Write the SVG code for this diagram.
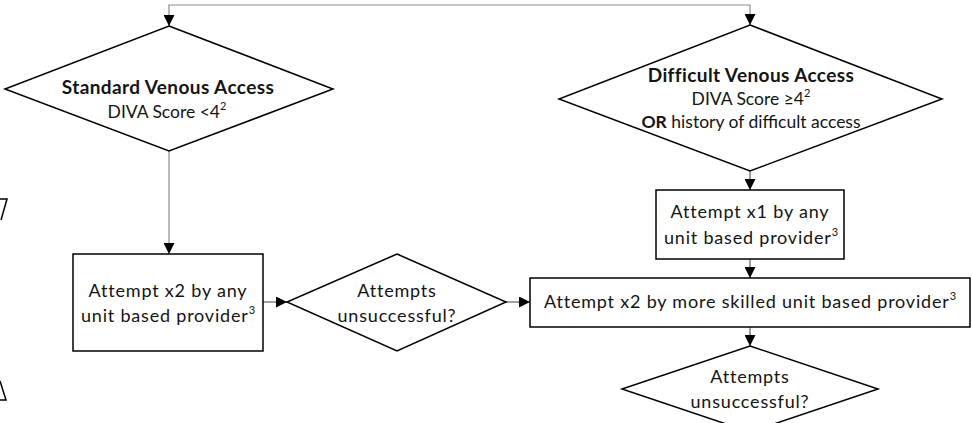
<svg xmlns="http://www.w3.org/2000/svg" width="972" height="423" viewBox="0 0 972 423">
<style>
  .shape { fill: #ffffff; stroke: #000000; stroke-width: 1.5; }
  .frag { fill: none; stroke: #000000; stroke-width: 1.5; }
  .conn { fill: none; stroke: #404040; stroke-width: 1; }
  .conn.gray { stroke: #8c8c8c; stroke-width: 1.2; }
  text { font-family: "Lato", "Liberation Sans", sans-serif; font-size: 18px; letter-spacing: 0.8px; fill: #141414; text-anchor: middle; }
  .b { font-weight: bold; font-size: 19px; letter-spacing: 0.4px; }
  .tight { font-size: 17.5px; letter-spacing: 0; }
  .sup { font-size: 11px; letter-spacing: 0; }
</style>
<defs>
  <marker id="arr" markerWidth="11" markerHeight="11" viewBox="0 0 10 10" refX="10" refY="5" orient="auto" markerUnits="userSpaceOnUse">
    <path d="M0,0 L10,5 L0,10 Z" fill="#000000"/>
  </marker>
</defs>

<g id="fragments">
  <path class="frag" d="M0,199 H7 L1,220"/>
  <path class="frag" d="M0,381 L6,400 H0"/>
</g>

<g id="connectors">
  <path class="conn gray" d="M460,5 H169 V26" marker-end="url(#arr)"/>
  <path class="conn gray" d="M460,5 H750 V25" marker-end="url(#arr)"/>
  <path class="conn gray" d="M169,151 V254" marker-end="url(#arr)"/>
  <path class="conn" d="M263,302 H287" marker-end="url(#arr)"/>
  <path class="conn" d="M506,302 H530" marker-end="url(#arr)"/>
  <path class="conn" d="M750,171 V190" marker-end="url(#arr)"/>
  <path class="conn" d="M750,259 V278" marker-end="url(#arr)"/>
  <path class="conn" d="M750,327 V346" marker-end="url(#arr)"/>
</g>

<g id="standard">
  <path class="shape" d="M169,26 L333,89 L169,151 L5,89 Z"/>
  <text x="168" y="94" class="b">Standard Venous Access</text>
  <text x="167" y="118" class="tight">DIVA Score &lt;4<tspan class="sup" dy="-8">2</tspan></text>
</g>

<g id="difficult">
  <path class="shape" d="M750,25 L942,99 L750,171 L559,99 Z"/>
  <text x="751" y="82" class="b">Difficult Venous Access</text>
  <text x="751" y="105" class="tight">DIVA Score ≥4<tspan class="sup" dy="-8">2</tspan></text>
  <text x="751" y="128" class="tight"><tspan font-weight="bold">OR</tspan> history of difficult access</text>
</g>

<g id="attempt-x2-any">
  <rect class="shape" x="73" y="254" width="190" height="97"/>
  <text x="168" y="297">Attempt x2 by any</text>
  <text x="168" y="322">unit based provider<tspan class="sup" dy="-8">3</tspan></text>
</g>

<g id="unsuccessful-1">
  <path class="shape" d="M397,254 L506,302 L397,351 L287,302 Z"/>
  <text x="397" y="297">Attempts</text>
  <text x="397" y="322">unsuccessful?</text>
</g>

<g id="attempt-x1-any">
  <rect class="shape" x="656" y="190" width="188" height="69"/>
  <text x="750" y="218">Attempt x1 by any</text>
  <text x="751" y="244">unit based provider<tspan class="sup" dy="-8">3</tspan></text>
</g>

<g id="attempt-x2-skilled">
  <rect class="shape" x="530" y="278" width="440" height="49"/>
  <text x="750" y="308">Attempt x2 by more skilled unit based provider<tspan class="sup" dy="-8">3</tspan></text>
</g>

<g id="unsuccessful-2">
  <path class="shape" d="M750,346 L878,389 L750,432 L622,389 Z"/>
  <text x="750" y="383">Attempts</text>
  <text x="750" y="408">unsuccessful?</text>
</g>
</svg>
